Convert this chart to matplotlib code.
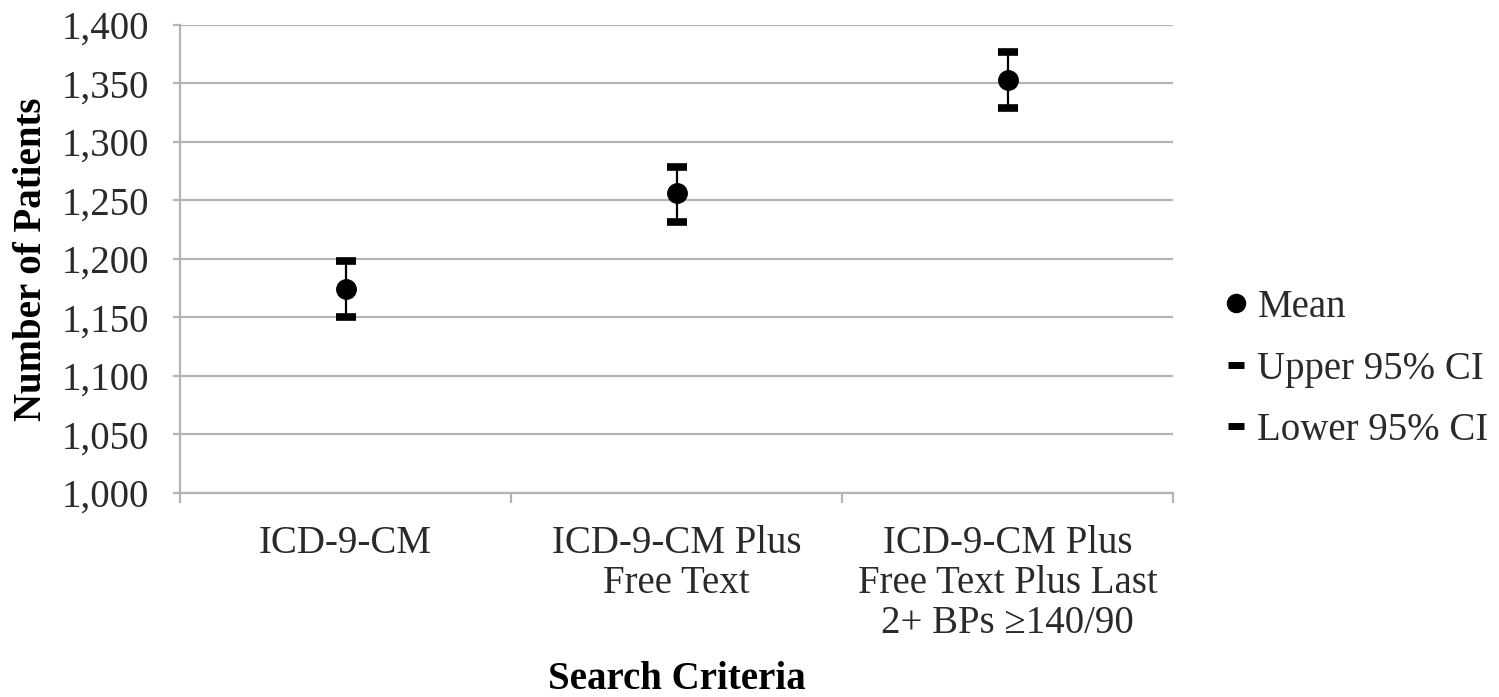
import matplotlib.pyplot as plt
from matplotlib.lines import Line2D

plt.rcParams['font.family'] = ['Liberation Serif', 'DejaVu Serif']

categories = ["ICD-9-CM",
              "ICD-9-CM Plus\nFree Text",
              "ICD-9-CM Plus\nFree Text Plus Last\n2+ BPs \u2265140/90"]
mean = [1174, 1256, 1353]
upper = [1198, 1279, 1377]
lower = [1150, 1232, 1329]
yticks = [1000, 1050, 1100, 1150, 1200, 1250, 1300, 1350, 1400]

fig = plt.figure(figsize=(14.99, 6.97), dpi=100)
ax = fig.add_axes([180 / 1499, 1 - 493 / 697, (1173 - 180) / 1499, (493 - 25) / 697])

x = list(range(len(categories)))
grid_col = '#b4b4b4'
txt_col = '#2a2a2a'

ax.vlines(x, lower, upper, color='black', linewidth=1.6, zorder=3)
ax.plot(x, upper, ls='none', marker='_', ms=15, mew=5.5, color='black', zorder=4)
ax.plot(x, lower, ls='none', marker='_', ms=15, mew=5.5, color='black', zorder=4)
ax.plot(x, mean, ls='none', marker='o', ms=14, color='black', zorder=5)

ax.set_xlim(-0.5, 2.5)
ax.set_ylim(1000, 1400)
ax.set_yticks(yticks)
ax.set_yticklabels([f"{v:,}" for v in yticks])
ax.yaxis.grid(True, color=grid_col, linewidth=1.6)
ax.set_axisbelow(True)

ax.set_xticks(x)
ax.set_xticklabels(categories, linespacing=1.1)
ax.set_xticks([-0.5, 0.5, 1.5, 2.5], minor=True)
ax.tick_params(axis='x', which='major', length=0, pad=23, labelsize=28, labelcolor=txt_col)
ax.tick_params(axis='x', which='minor', length=7, width=1.6, color=grid_col)
ax.tick_params(axis='y', length=5, width=1.6, color=grid_col, pad=17, labelsize=28,
               labelcolor=txt_col)
for lab in ax.get_xticklabels():
    lab.set_verticalalignment('top')

for s in ['top', 'right']:
    ax.spines[s].set_visible(False)
for s in ['left', 'bottom']:
    ax.spines[s].set_color(grid_col)
    ax.spines[s].set_linewidth(1.6)

ax.text(-0.150, 0.5, "Number of Patients", transform=ax.transAxes, rotation=90,
        ha='center', va='center', fontsize=28, fontweight='bold')
fig.text(677 / 1499, 1 - 689 / 697, "Search Criteria", ha='center', va='baseline',
         fontsize=28, fontweight='bold')

handles = [
    Line2D([], [], ls='none', marker='o', ms=13, color='black'),
    Line2D([], [], ls='none', marker='_', ms=12, mew=5, color='black'),
    Line2D([], [], ls='none', marker='_', ms=12, mew=5, color='black'),
]
fig.legend(handles, ["Mean", "Upper 95% CI", "Lower 95% CI"],
           loc='center left', bbox_to_anchor=(1224 / 1499, 1 - 369 / 697),
           frameon=False, fontsize=28, handlelength=0.6, handletextpad=0.26,
           labelspacing=0.63, borderpad=0, borderaxespad=0, labelcolor=txt_col)

fig.savefig("out.png", dpi=100, facecolor='white')
